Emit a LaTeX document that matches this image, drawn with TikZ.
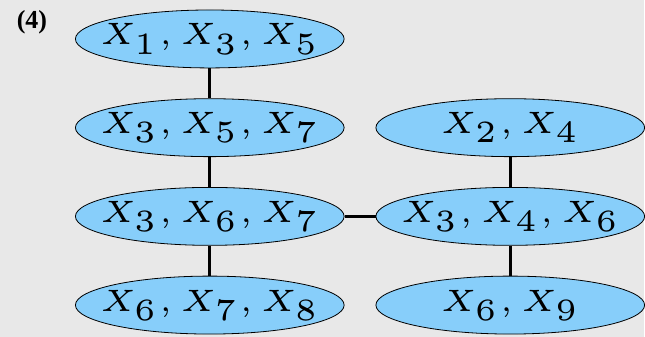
\documentclass[tikz,border=0pt]{standalone}
\usepackage{graphicx}
\usepackage{fontspec}
\newfontfamily\tagfont{Liberation Serif}
\usetikzlibrary{shapes.geometric, positioning}

% small optical size, blown up
\newcommand{\cliqtext}[1]{\scalebox{3.1}{\tiny$#1$}}

\begin{document}
\begin{tikzpicture}[
      node distance=15pt and 15.5pt,
      clique/.style={ellipse, draw, thin, fill=skyblue, minimum width=134.5pt, minimum height=29pt, inner sep=-30pt},
      link/.style={line width=1.3pt}
    ]
    \definecolor{skyblue}{RGB}{135,206,250}
    \fill[black!9] (0,0) rectangle (322.5pt,-168.5pt);

    \node (tag) at (16pt,-11pt) {\tagfont\fontsize{13}{15}\selectfont\textbf{(4)}};

    \node[clique] (c135) at (105pt,-19.5pt) {\cliqtext{X_1, X_3, X_5}};
    \node[clique, below=of c135] (c357) {\cliqtext{X_3, X_5, X_7}};
    \node[clique, below=of c357] (c367) {\cliqtext{X_3, X_6, X_7}};
    \node[clique, below=of c367] (c678) {\cliqtext{X_6, X_7, X_8}};
    \node[clique, right=of c357] (c24) {\cliqtext{X_2, X_4}};
    \node[clique, right=of c367] (c346) {\cliqtext{X_3, X_4, X_6}};
    \node[clique, right=of c678] (c69) {\cliqtext{X_6, X_9}};

    \draw[link] (c135) -- (c357);
    \draw[link] (c357) -- (c367);
    \draw[link] (c367) -- (c678);
    \draw[link] (c367) -- (c346);
    \draw[link] (c24) -- (c346);
    \draw[link] (c346) -- (c69);
  \end{tikzpicture}
\end{document}
